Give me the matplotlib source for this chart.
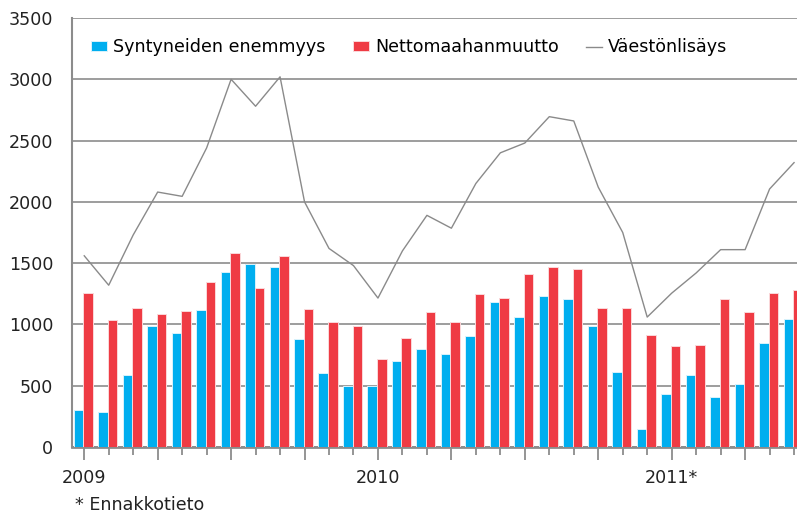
import numpy as np
import matplotlib
matplotlib.use("Agg")
import matplotlib.pyplot as plt

# kuukaudet 2009-01 ... 2011-06
months = [f"{y}-{m:02d}" for y in (2009, 2010, 2011) for m in range(1, 13)][:30]
year_ticks = [0, 12, 24]
year_labels = ["2009", "2010", "2011*"]

syntyneet = [300, 285, 590, 985, 930, 1115, 1425, 1495, 1465, 880, 600, 495,
             495, 705, 800, 755, 905, 1180, 1060, 1230, 1205, 985, 615, 145,
             430, 590, 410, 510, 850, 1045]
netto = [1255, 1035, 1135, 1085, 1110, 1345, 1580, 1295, 1560, 1125, 1020, 985,
         720, 890, 1100, 1020, 1245, 1215, 1410, 1465, 1450, 1135, 1135, 915,
         820, 835, 1205, 1100, 1255, 1280]
lisays = [1560, 1320, 1730, 2080, 2045, 2440, 3000, 2780, 3020, 2000, 1620, 1480,
          1215, 1600, 1890, 1785, 2150, 2400, 2480, 2695, 2660, 2120, 1750, 1060,
          1255, 1420, 1610, 1610, 2105, 2320]

blue = "#00AEEF"
red = "#EF3B44"
grey = "#8a8a8a"
fs = 12.6

plt.rcParams["font.family"] = ["DejaVu Sans"]

fig = plt.figure(figsize=(7.97, 5.16), dpi=100)
ax = fig.add_axes([72 / 797, 1 - 447 / 516, 1 - 72 / 797, 429 / 516])

x = np.arange(len(months))
w = 0.39
b1 = ax.bar(x - 0.235, syntyneet, w, color=blue, edgecolor="#d8f2fc", linewidth=0.7,
            label="Syntyneiden enemmyys", zorder=3)
b2 = ax.bar(x + 0.155, netto, w, color=red, edgecolor="#fbd8da", linewidth=0.7,
            label="Nettomaahanmuutto", zorder=3)
l1, = ax.plot(x, lisays, color=grey, lw=1.0, label="Väestönlisäys", zorder=4)

ax.set_xlim(-0.5, 29.12)
ax.set_ylim(0, 3500)
ax.set_yticks(np.arange(0, 3501, 500))
ax.yaxis.grid(True, color="#8c8c8c", lw=1.2, zorder=0)
ax.set_axisbelow(True)

for s in ("top", "right"):
    ax.spines[s].set_visible(False)
ax.spines["left"].set_color("#8c8c8c")
ax.spines["left"].set_linewidth(1.5)
ax.spines["bottom"].set_color("#8c8c8c")
ax.spines["bottom"].set_linewidth(2)

ax.tick_params(axis="y", length=0, pad=13.5, labelsize=fs, labelcolor="#222222")

# pitkat tikit neljannesvuosittain, lyhyet kuukausittain
quarters = list(range(0, 30, 3))
ax.set_xticks(quarters)
ax.set_xticklabels([year_labels[year_ticks.index(q)] if q in year_ticks else "" for q in quarters])
ax.set_xticks([m for m in x if m not in quarters], minor=True)
ax.tick_params(axis="x", which="major", length=9.4, width=1.3, color="#8c8c8c",
               pad=6.5, labelsize=fs, labelcolor="#222222")
ax.tick_params(axis="x", which="minor", length=5.8, width=1.3, color="#8c8c8c")

ax.legend(handles=[b1, b2, l1], loc="center left", bbox_to_anchor=(0.026, 0.932),
          ncol=3, frameon=False, fontsize=fs, handlelength=0.92, handleheight=0.5,
          handletextpad=0.35, columnspacing=1.55, borderpad=0, borderaxespad=0)

fig.text(75 / 797, 1 - 505 / 516, "* Ennakkotieto", fontsize=fs, color="#222222",
         va="center", ha="left")

fig.savefig("out.png", dpi=100)
